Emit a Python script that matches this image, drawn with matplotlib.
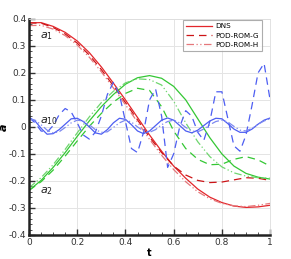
import matplotlib
matplotlib.use("Agg")
import matplotlib.pyplot as plt
from matplotlib.ticker import MultipleLocator, FuncFormatter
import numpy as np

# coarse time grid for a1 / a2, fine grid for a10
t_coarse = np.round(np.arange(0, 1.0001, 0.05), 3)
t_fine = np.round(np.arange(0, 1.0001, 0.025), 3)

a1_dns = [0.385, 0.386, 0.372, 0.350, 0.318, 0.275, 0.222, 0.162, 0.100, 0.035, -0.030,
          -0.090, -0.145, -0.190, -0.230, -0.260, -0.280, -0.293, -0.298, -0.296, -0.290]
a1_g = [0.385, 0.384, 0.368, 0.344, 0.310, 0.266, 0.212, 0.152, 0.090, 0.026, -0.038,
        -0.095, -0.145, -0.178, -0.198, -0.206, -0.204, -0.196, -0.188, -0.190, -0.198]
a1_h = [0.375, 0.376, 0.362, 0.338, 0.303, 0.258, 0.204, 0.144, 0.082, 0.018, -0.046,
        -0.105, -0.158, -0.203, -0.240, -0.266, -0.283, -0.292, -0.295, -0.290, -0.283]

a2_dns = [-0.235, -0.198, -0.150, -0.095, -0.035, 0.022, 0.075, 0.120, 0.158, 0.182, 0.190,
          0.180, 0.150, 0.100, 0.030, -0.040, -0.100, -0.145, -0.172, -0.186, -0.193]
a2_g = [-0.235, -0.203, -0.160, -0.108, -0.052, 0.002, 0.050, 0.092, 0.124, 0.143, 0.135,
        0.075, -0.015, -0.080, -0.120, -0.140, -0.138, -0.120, -0.110, -0.122, -0.145]
a2_h = [-0.225, -0.188, -0.140, -0.083, -0.022, 0.037, 0.090, 0.132, 0.163, 0.178, 0.175,
        0.155, 0.095, 0.015, -0.055, -0.110, -0.148, -0.170, -0.182, -0.188, -0.190]

a10_dns = [0.035, 0.022, -0.005, -0.027, -0.025, -0.010, 0.010, 0.030, 0.032, 0.020, 0.000,
           -0.022, -0.027, -0.010, 0.015, 0.032, 0.028, 0.008, -0.015, -0.025, -0.015,
           0.005, 0.025, 0.033, 0.025, 0.005, -0.015, -0.022, -0.012, 0.005, 0.022,
           0.032, 0.030, 0.012, -0.008, -0.020, -0.020, -0.008, 0.010, 0.025, 0.033]
a10_g = [0.035, 0.015, -0.015, -0.020, 0.005, 0.045, 0.068, 0.055, 0.015, -0.030, -0.045,
         -0.020, 0.040, 0.120, 0.165, 0.120, 0.020, -0.080, -0.095, -0.020, 0.100,
         0.140, 0.040, -0.150, -0.100, 0.000, 0.060, 0.040, -0.020, -0.050, 0.020,
         0.130, 0.130, 0.030, -0.070, -0.090, -0.030, 0.080, 0.200, 0.235, 0.100]
a10_h = [0.030, 0.025, 0.008, -0.012, -0.022, -0.018, -0.002, 0.015, 0.025, 0.022, 0.008,
         -0.010, -0.020, -0.018, -0.002, 0.015, 0.025, 0.018, 0.000, -0.015, -0.020,
         -0.010, 0.008, 0.020, 0.025, 0.015, -0.002, -0.015, -0.018, -0.008, 0.008,
         0.020, 0.025, 0.018, 0.002, -0.012, -0.015, -0.005, 0.010, 0.022, 0.030]

RED = "#e3262b"
RED_G = "#cc1417"
RED_H = "#e5777a"
GREEN = "#34c734"
GREEN_H = "#6fd66f"
BLUE = "#4d5ef2"
BLUE_H = "#7c88f0"

dashed = (0, (6, 4))
dashdot = (0, (6, 2, 1, 2, 1, 2))

fig = plt.figure(figsize=(2.91, 2.59), dpi=100)
ax = fig.add_axes([0.0997, 0.0927, 0.8285, 0.8346])

lw = 0.9
ax.plot(t_coarse, a1_dns, color=RED, lw=lw, label="DNS")
ax.plot(t_coarse, a1_g, color=RED_G, lw=lw, linestyle=dashed, label="POD-ROM-G")
ax.plot(t_coarse, a1_h, color=RED_H, lw=lw, linestyle=dashdot, label="POD-ROM-H")

ax.plot(t_coarse, a2_dns, color=GREEN, lw=lw)
ax.plot(t_coarse, a2_g, color=GREEN, lw=lw, linestyle=dashed)
ax.plot(t_coarse, a2_h, color=GREEN_H, lw=lw, linestyle=dashdot)

ax.plot(t_fine, a10_dns, color=BLUE, lw=lw)
ax.plot(t_fine, a10_g, color=BLUE, lw=lw, linestyle=dashed)
ax.plot(t_fine, a10_h, color=BLUE_H, lw=lw, linestyle=dashdot)

ax.set_xlim(0, 1)
ax.set_ylim(-0.4, 0.4)
ax.xaxis.set_major_locator(MultipleLocator(0.2))
ax.xaxis.set_minor_locator(MultipleLocator(0.05))
ax.yaxis.set_major_locator(MultipleLocator(0.1))
ax.yaxis.set_minor_locator(MultipleLocator(0.02))

fmt = FuncFormatter(lambda v, p: "0" if abs(v) < 1e-9 else ("1" if abs(v - 1) < 1e-9 else f"{v:g}"))
ax.xaxis.set_major_formatter(fmt)
ax.yaxis.set_major_formatter(fmt)

ax.tick_params(which="both", direction="in", top=False, right=False,
               labelsize=6.5, colors="#333333", pad=2)
ax.tick_params(which="major", length=4, width=1.0)
ax.tick_params(which="minor", length=2, width=0.6)

ax.grid(True, which="major", color="#e4e4e4", lw=0.7)
for side in ["left", "bottom"]:
    ax.spines[side].set_linewidth(1.8)
    ax.spines[side].set_color("#222222")
for side in ["top", "right"]:
    ax.spines[side].set_linewidth(0.6)
    ax.spines[side].set_color("#dddddd")

ax.set_xlabel("t", fontsize=7, fontweight="bold")
ax.xaxis.set_label_coords(0.5, -0.06)
ax.set_ylabel("a", fontsize=8, fontweight="bold", style="italic")
ax.yaxis.set_label_coords(-0.085, 0.5)

ax.text(0.045, 0.33, "$a_1$", fontsize=8, color="#222222")
ax.text(0.045, 0.013, "$a_{10}$", fontsize=8, color="#222222")
ax.text(0.045, -0.245, "$a_2$", fontsize=8, color="#222222")

leg = ax.legend(loc="upper right", fontsize=5.2, frameon=True, fancybox=False,
                handlelength=3.6, handletextpad=0.4, borderpad=0.45, labelspacing=0.45,
                bbox_to_anchor=(0.967, 0.995), borderaxespad=0)
leg.get_frame().set_edgecolor("#999999")
leg.get_frame().set_linewidth(0.8)

fig.savefig("out.png", dpi=100)
